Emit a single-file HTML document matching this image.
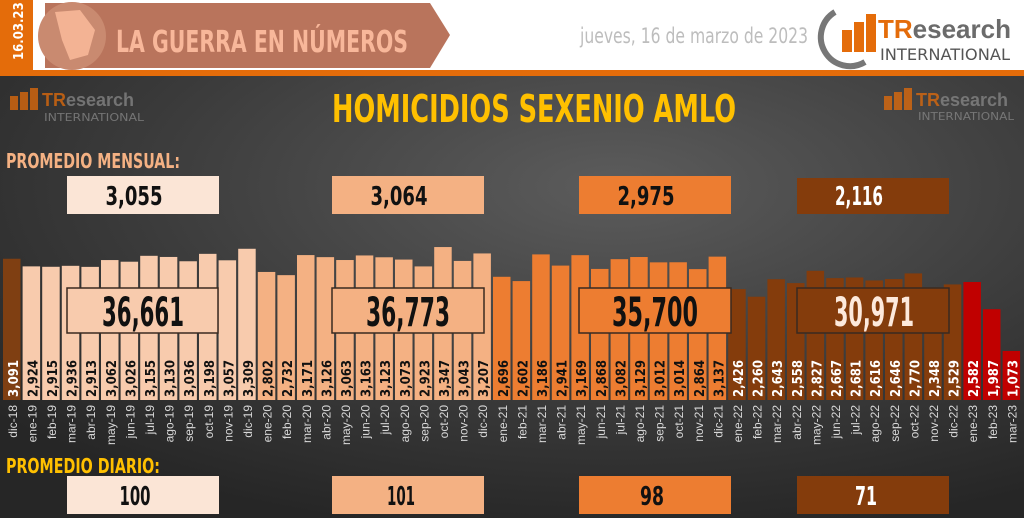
<!DOCTYPE html>
<html><head><meta charset="utf-8"><style>
html,body{margin:0;padding:0;width:1024px;height:518px;overflow:hidden;background:#fff}
svg{display:block}
.v{font-family:"DejaVu Sans Condensed","Liberation Sans",sans-serif;font-weight:bold;font-size:13px;fill:#111}
.vw{fill:#fff}
.m{font-family:"Liberation Sans",sans-serif;font-size:12px;fill:#d8d8d8;text-anchor:end}
.bn{font-family:"DejaVu Sans Condensed","Liberation Sans",sans-serif;font-weight:bold;text-anchor:middle}
</style></head><body>
<svg width="1024" height="518" viewBox="0 0 1024 518" xmlns="http://www.w3.org/2000/svg">
<defs>
<radialGradient id="bg" cx="0.6" cy="0.25" r="0.8">
<stop offset="0" stop-color="#5c5c5c"/><stop offset="0.6" stop-color="#3a3a3a"/><stop offset="1" stop-color="#262626"/>
</radialGradient>
</defs>
<rect x="0" y="0" width="1024" height="70" fill="#fff"/>
<rect x="0" y="0" width="33" height="70" fill="#e46c0a"/>
<text transform="translate(23,60) rotate(-90)" font-family="DejaVu Sans Condensed,sans-serif" font-weight="bold" font-size="13" fill="#fff">16.03.23</text>
<polygon points="45,3 430,3 450,35 430,68 45,68" fill="#b9745c"/>
<circle cx="72" cy="36" r="34" fill="#c98a70"/>
<path d="M55,12 L80,10 L95,30 L88,55 L70,60 L62,40 Z" fill="#f3b394"/>
<text x="116" y="52" font-family="DejaVu Sans Condensed,sans-serif" font-weight="bold" font-size="30" fill="#f8b79a" textLength="292" lengthAdjust="spacingAndGlyphs">LA GUERRA EN NÚMEROS</text>
<text x="580" y="43" font-family="DejaVu Sans Condensed,sans-serif" font-size="21" fill="#bdbdbd" textLength="228" lengthAdjust="spacingAndGlyphs">jueves, 16 de marzo de 2023</text>
<path d="M835,12 A28,28 0 0 0 865,62" stroke="#777" stroke-width="6" fill="none"/>
<rect x="842" y="30" width="10" height="22" fill="#e46c0a"/><rect x="854" y="22" width="10" height="30" fill="#e46c0a"/><rect x="866" y="14" width="10" height="38" fill="#e46c0a"/>
<text x="878" y="38" font-family="Liberation Sans,sans-serif" font-weight="bold" font-size="26" fill="#e46c0a">TR<tspan fill="#6b6b6b">esearch</tspan></text>
<text x="880" y="60" font-family="DejaVu Sans Condensed,sans-serif" font-size="16" fill="#555" textLength="130" lengthAdjust="spacingAndGlyphs">INTERNATIONAL</text>
<rect x="0" y="70" width="1024" height="6" fill="#e46c0a"/>
<rect x="0" y="76" width="1024" height="442" fill="url(#bg)"/>
<g opacity="0.75">
<rect x="10" y="96" width="8" height="14" fill="#e46c0a"/><rect x="20" y="92" width="8" height="18" fill="#e46c0a"/><rect x="30" y="88" width="8" height="22" fill="#e46c0a"/>
<text x="42" y="106" font-family="Liberation Sans,sans-serif" font-weight="bold" font-size="18" fill="#e46c0a">TR<tspan fill="#888">esearch</tspan></text>
<text x="44" y="121" font-family="DejaVu Sans Condensed,sans-serif" font-size="11" fill="#888" textLength="100" lengthAdjust="spacingAndGlyphs">INTERNATIONAL</text>
<rect x="884" y="96" width="8" height="14" fill="#e46c0a"/><rect x="894" y="92" width="8" height="18" fill="#e46c0a"/><rect x="904" y="88" width="8" height="22" fill="#e46c0a"/>
<text x="916" y="106" font-family="Liberation Sans,sans-serif" font-weight="bold" font-size="18" fill="#e46c0a">TR<tspan fill="#888">esearch</tspan></text>
<text x="918" y="120" font-family="DejaVu Sans Condensed,sans-serif" font-size="11" fill="#888" textLength="96" lengthAdjust="spacingAndGlyphs">INTERNATIONAL</text>
</g>
<text x="332" y="122" font-family="DejaVu Sans Condensed,sans-serif" font-weight="bold" font-size="38" fill="#ffc000" textLength="404" lengthAdjust="spacingAndGlyphs">HOMICIDIOS SEXENIO AMLO</text>
<text x="6" y="168" font-family="DejaVu Sans Condensed,sans-serif" font-weight="bold" font-size="20" fill="#f4b183" textLength="174" lengthAdjust="spacingAndGlyphs">PROMEDIO MENSUAL:</text>
<rect x="67" y="176" width="152" height="38" fill="#fbe5d6"/><text class="bn" x="134" y="205" font-size="26" fill="#111" textLength="57" lengthAdjust="spacingAndGlyphs">3,055</text>
<rect x="332" y="176" width="152" height="38" fill="#f4b183"/><text class="bn" x="399" y="205" font-size="26" fill="#111" textLength="57" lengthAdjust="spacingAndGlyphs">3,064</text>
<rect x="579" y="176" width="152" height="38" fill="#ed7d31"/><text class="bn" x="646" y="205" font-size="26" fill="#111" textLength="57" lengthAdjust="spacingAndGlyphs">2,975</text>
<rect x="797" y="178" width="152" height="36" fill="#843c0c"/><text class="bn" x="859" y="205" font-size="26" fill="#fff" textLength="48" lengthAdjust="spacingAndGlyphs">2,116</text>
<g transform="translate(0,400) scale(1,0.0457)">
<rect x="3" y="-3091" width="17.5" height="3091" fill="#7f3f12"/>
<g fill="#f8cbad">
<rect x="22.6" y="-2924" width="17.5" height="2924"/><rect x="42.2" y="-2915" width="17.5" height="2915"/><rect x="61.8" y="-2936" width="17.5" height="2936"/><rect x="81.4" y="-2913" width="17.5" height="2913"/><rect x="101" y="-3062" width="17.5" height="3062"/><rect x="120.6" y="-3026" width="17.5" height="3026"/><rect x="140.2" y="-3155" width="17.5" height="3155"/><rect x="159.8" y="-3130" width="17.5" height="3130"/><rect x="179.4" y="-3036" width="17.5" height="3036"/><rect x="199" y="-3198" width="17.5" height="3198"/><rect x="218.6" y="-3057" width="17.5" height="3057"/><rect x="238.2" y="-3309" width="17.5" height="3309"/>
</g>
<g fill="#f4b183">
<rect x="257.8" y="-2802" width="17.5" height="2802"/><rect x="277.4" y="-2732" width="17.5" height="2732"/><rect x="297" y="-3171" width="17.5" height="3171"/><rect x="316.6" y="-3126" width="17.5" height="3126"/><rect x="336.2" y="-3063" width="17.5" height="3063"/><rect x="355.8" y="-3163" width="17.5" height="3163"/><rect x="375.4" y="-3123" width="17.5" height="3123"/><rect x="395" y="-3073" width="17.5" height="3073"/><rect x="414.6" y="-2923" width="17.5" height="2923"/><rect x="434.2" y="-3347" width="17.5" height="3347"/><rect x="453.8" y="-3043" width="17.5" height="3043"/><rect x="473.4" y="-3207" width="17.5" height="3207"/>
</g>
<g fill="#ed7d31">
<rect x="493" y="-2696" width="17.5" height="2696"/><rect x="512.6" y="-2602" width="17.5" height="2602"/><rect x="532.2" y="-3186" width="17.5" height="3186"/><rect x="551.8" y="-2941" width="17.5" height="2941"/><rect x="571.4" y="-3169" width="17.5" height="3169"/><rect x="591" y="-2868" width="17.5" height="2868"/><rect x="610.6" y="-3082" width="17.5" height="3082"/><rect x="630.2" y="-3129" width="17.5" height="3129"/><rect x="649.8" y="-3012" width="17.5" height="3012"/><rect x="669.4" y="-3014" width="17.5" height="3014"/><rect x="689" y="-2864" width="17.5" height="2864"/><rect x="708.6" y="-3137" width="17.5" height="3137"/>
</g>
<g fill="#843c0c">
<rect x="728.2" y="-2426" width="17.5" height="2426"/><rect x="747.8" y="-2260" width="17.5" height="2260"/><rect x="767.4" y="-2643" width="17.5" height="2643"/><rect x="787" y="-2558" width="17.5" height="2558"/><rect x="806.6" y="-2827" width="17.5" height="2827"/><rect x="826.2" y="-2667" width="17.5" height="2667"/><rect x="845.8" y="-2681" width="17.5" height="2681"/><rect x="865.4" y="-2616" width="17.5" height="2616"/><rect x="885" y="-2646" width="17.5" height="2646"/><rect x="904.6" y="-2770" width="17.5" height="2770"/><rect x="924.2" y="-2348" width="17.5" height="2348"/><rect x="943.8" y="-2529" width="17.5" height="2529"/>
</g>
<g fill="#c00000">
<rect x="963.4" y="-2582" width="17.5" height="2582"/><rect x="983" y="-1987" width="17.5" height="1987"/><rect x="1002.6" y="-1073" width="17.5" height="1073"/>
</g>
</g>
<rect x="67" y="288" width="151" height="45" fill="#f8cbad" stroke="#3a2a20" stroke-width="1.5"/><text class="bn" x="143" y="326" font-size="40" fill="#111" textLength="82" lengthAdjust="spacingAndGlyphs">36,661</text>
<rect x="332" y="288" width="152" height="45" fill="#f4b183" stroke="#3a2a20" stroke-width="1.5"/><text class="bn" x="408" y="326" font-size="40" fill="#111" textLength="84" lengthAdjust="spacingAndGlyphs">36,773</text>
<rect x="579" y="288" width="152" height="45" fill="#ed7d31" stroke="#3a2a20" stroke-width="1.5"/><text class="bn" x="655" y="326" font-size="40" fill="#111" textLength="86" lengthAdjust="spacingAndGlyphs">35,700</text>
<rect x="797" y="288" width="152" height="45" fill="#843c0c" stroke="#3a2a20" stroke-width="1.5"/><text class="bn" x="874" y="326" font-size="40" fill="#fde9dc" textLength="80" lengthAdjust="spacingAndGlyphs">30,971</text>
<g class="v">
<text class="vw" transform="translate(17.8,397) rotate(-90)">3,091</text>
<text transform="translate(37.4,397) rotate(-90)">2,924</text><text transform="translate(57,397) rotate(-90)">2,915</text><text transform="translate(76.6,397) rotate(-90)">2,936</text><text transform="translate(96.2,397) rotate(-90)">2,913</text><text transform="translate(115.8,397) rotate(-90)">3,062</text><text transform="translate(135.4,397) rotate(-90)">3,026</text><text transform="translate(155,397) rotate(-90)">3,155</text><text transform="translate(174.6,397) rotate(-90)">3,130</text><text transform="translate(194.2,397) rotate(-90)">3,036</text><text transform="translate(213.8,397) rotate(-90)">3,198</text><text transform="translate(233.4,397) rotate(-90)">3,057</text><text transform="translate(253,397) rotate(-90)">3,309</text>
<text transform="translate(272.6,397) rotate(-90)">2,802</text><text transform="translate(292.2,397) rotate(-90)">2,732</text><text transform="translate(311.8,397) rotate(-90)">3,171</text><text transform="translate(331.4,397) rotate(-90)">3,126</text><text transform="translate(351,397) rotate(-90)">3,063</text><text transform="translate(370.6,397) rotate(-90)">3,163</text><text transform="translate(390.2,397) rotate(-90)">3,123</text><text transform="translate(409.8,397) rotate(-90)">3,073</text><text transform="translate(429.4,397) rotate(-90)">2,923</text><text transform="translate(449,397) rotate(-90)">3,347</text><text transform="translate(468.6,397) rotate(-90)">3,043</text><text transform="translate(488.2,397) rotate(-90)">3,207</text>
<text transform="translate(507.8,397) rotate(-90)">2,696</text><text transform="translate(527.4,397) rotate(-90)">2,602</text><text transform="translate(547,397) rotate(-90)">3,186</text><text transform="translate(566.6,397) rotate(-90)">2,941</text><text transform="translate(586.2,397) rotate(-90)">3,169</text><text transform="translate(605.8,397) rotate(-90)">2,868</text><text transform="translate(625.4,397) rotate(-90)">3,082</text><text transform="translate(645,397) rotate(-90)">3,129</text><text transform="translate(664.6,397) rotate(-90)">3,012</text><text transform="translate(684.2,397) rotate(-90)">3,014</text><text transform="translate(703.8,397) rotate(-90)">2,864</text><text transform="translate(723.4,397) rotate(-90)">3,137</text>
<g class="vw" fill="#fde9dc">
<text transform="translate(743,397) rotate(-90)">2,426</text><text transform="translate(762.6,397) rotate(-90)">2,260</text><text transform="translate(782.2,397) rotate(-90)">2,643</text><text transform="translate(801.8,397) rotate(-90)">2,558</text><text transform="translate(821.4,397) rotate(-90)">2,827</text><text transform="translate(841,397) rotate(-90)">2,667</text><text transform="translate(860.6,397) rotate(-90)">2,681</text><text transform="translate(880.2,397) rotate(-90)">2,616</text><text transform="translate(899.8,397) rotate(-90)">2,646</text><text transform="translate(919.4,397) rotate(-90)">2,770</text><text transform="translate(939,397) rotate(-90)">2,348</text><text transform="translate(958.6,397) rotate(-90)">2,529</text>
<text transform="translate(978.2,397) rotate(-90)">2,582</text><text transform="translate(997.8,397) rotate(-90)">1,987</text><text transform="translate(1017.4,397) rotate(-90)">1,073</text>
</g>
</g>
<g class="m">
<text transform="translate(16.8,405) rotate(-90)">dic-18</text><text transform="translate(36.4,405) rotate(-90)">ene-19</text><text transform="translate(56,405) rotate(-90)">feb-19</text><text transform="translate(75.6,405) rotate(-90)">mar-19</text><text transform="translate(95.2,405) rotate(-90)">abr-19</text><text transform="translate(114.8,405) rotate(-90)">may-19</text><text transform="translate(134.4,405) rotate(-90)">jun-19</text><text transform="translate(154,405) rotate(-90)">jul-19</text><text transform="translate(173.6,405) rotate(-90)">ago-19</text><text transform="translate(193.2,405) rotate(-90)">sep-19</text><text transform="translate(212.8,405) rotate(-90)">oct-19</text><text transform="translate(232.4,405) rotate(-90)">nov-19</text><text transform="translate(252,405) rotate(-90)">dic-19</text>
<text transform="translate(271.6,405) rotate(-90)">ene-20</text><text transform="translate(291.2,405) rotate(-90)">feb-20</text><text transform="translate(310.8,405) rotate(-90)">mar-20</text><text transform="translate(330.4,405) rotate(-90)">abr-20</text><text transform="translate(350,405) rotate(-90)">may-20</text><text transform="translate(369.6,405) rotate(-90)">jun-20</text><text transform="translate(389.2,405) rotate(-90)">jul-20</text><text transform="translate(408.8,405) rotate(-90)">ago-20</text><text transform="translate(428.4,405) rotate(-90)">sep-20</text><text transform="translate(448,405) rotate(-90)">oct-20</text><text transform="translate(467.6,405) rotate(-90)">nov-20</text><text transform="translate(487.2,405) rotate(-90)">dic-20</text>
<text transform="translate(506.8,405) rotate(-90)">ene-21</text><text transform="translate(526.4,405) rotate(-90)">feb-21</text><text transform="translate(546,405) rotate(-90)">mar-21</text><text transform="translate(565.6,405) rotate(-90)">abr-21</text><text transform="translate(585.2,405) rotate(-90)">may-21</text><text transform="translate(604.8,405) rotate(-90)">jun-21</text><text transform="translate(624.4,405) rotate(-90)">jul-21</text><text transform="translate(644,405) rotate(-90)">ago-21</text><text transform="translate(663.6,405) rotate(-90)">sep-21</text><text transform="translate(683.2,405) rotate(-90)">oct-21</text><text transform="translate(702.8,405) rotate(-90)">nov-21</text><text transform="translate(722.4,405) rotate(-90)">dic-21</text>
<text transform="translate(742,405) rotate(-90)">ene-22</text><text transform="translate(761.6,405) rotate(-90)">feb-22</text><text transform="translate(781.2,405) rotate(-90)">mar-22</text><text transform="translate(800.8,405) rotate(-90)">abr-22</text><text transform="translate(820.4,405) rotate(-90)">may-22</text><text transform="translate(840,405) rotate(-90)">jun-22</text><text transform="translate(859.6,405) rotate(-90)">jul-22</text><text transform="translate(879.2,405) rotate(-90)">ago-22</text><text transform="translate(898.8,405) rotate(-90)">sep-22</text><text transform="translate(918.4,405) rotate(-90)">oct-22</text><text transform="translate(938,405) rotate(-90)">nov-22</text><text transform="translate(957.6,405) rotate(-90)">dic-22</text>
<text transform="translate(977.2,405) rotate(-90)">ene-23</text><text transform="translate(996.8,405) rotate(-90)">feb-23</text><text transform="translate(1016.4,405) rotate(-90)">mar-23</text>
</g>
<text x="6" y="473" font-family="DejaVu Sans Condensed,sans-serif" font-weight="bold" font-size="20" fill="#ffc000" textLength="154" lengthAdjust="spacingAndGlyphs">PROMEDIO DIARIO:</text>
<rect x="67" y="476" width="152" height="38" fill="#fbe5d6"/><text class="bn" x="135" y="505" font-size="26" fill="#111" textLength="31" lengthAdjust="spacingAndGlyphs">100</text>
<rect x="332" y="476" width="152" height="38" fill="#f4b183"/><text class="bn" x="401" y="505" font-size="26" fill="#111" textLength="28" lengthAdjust="spacingAndGlyphs">101</text>
<rect x="579" y="476" width="152" height="38" fill="#ed7d31"/><text class="bn" x="652" y="505" font-size="26" fill="#111" textLength="24" lengthAdjust="spacingAndGlyphs">98</text>
<rect x="797" y="476" width="152" height="38" fill="#843c0c"/><text class="bn" x="866" y="505" font-size="26" fill="#fff" textLength="22" lengthAdjust="spacingAndGlyphs">71</text>
</svg>
</body></html>
